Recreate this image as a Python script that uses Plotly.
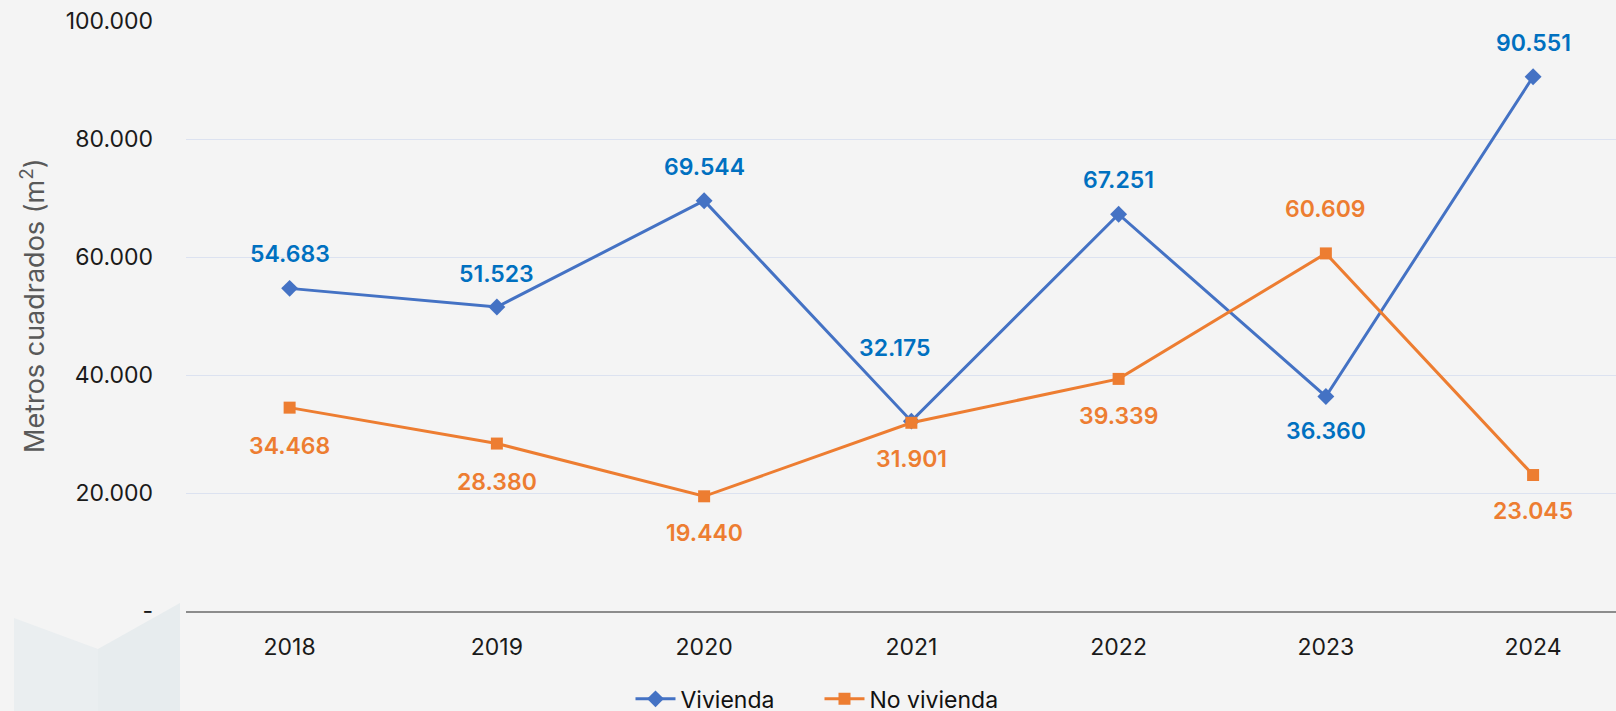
import plotly.graph_objects as go

years = ["2018", "2019", "2020", "2021", "2022", "2023", "2024"]
vivienda = [54683, 51523, 69544, 32175, 67251, 36360, 90551]
no_vivienda = [34468, 28380, 19440, 31901, 39339, 60609, 23045]
viv_labels = ["54.683", "51.523", "69.544", "32.175", "67.251", "36.360", "90.551"]
nov_labels = ["34.468", "28.380", "19.440", "31.901", "39.339", "60.609", "23.045"]
# label offsets (pixels, positive = above)
viv_shift = [34, 33, 34, 73, 34, -35, 34]
viv_xshift = [0, 0, 0, -17, 0, 0, 0]
nov_shift = [-38, -38, -37, -36, -37, 44, -36]
y_ticks = [0, 20000, 40000, 60000, 80000, 100000]
y_ticktext = ["-", "20.000", "40.000", "60.000", "80.000", "100.000"]
y_title = "Metros cuadrados (m<sup>2</sup>)"

BLUE = "#4472C4"
BLUE_TXT = "#0070C0"
ORANGE = "#ED7D31"
FONT = "Inter"

fig = go.Figure()
fig.add_trace(go.Scatter(
    x=years, y=vivienda, name="Vivienda", mode="lines+markers",
    line=dict(color=BLUE, width=3),
    marker=dict(symbol="diamond", size=13, color=BLUE),
))
fig.add_trace(go.Scatter(
    x=years, y=no_vivienda, name="No vivienda", mode="lines+markers",
    line=dict(color=ORANGE, width=3),
    marker=dict(symbol="square", size=12, color=ORANGE),
))

# plot area in pixels
L, R, T, B = 186, 1616, 21, 611
def px(xp):
    return (xp - L) / (R - L)
def py(yp):
    return (B - yp) / (B - T)

annotations = []
for i, yr in enumerate(years):
    annotations.append(dict(x=i, y=vivienda[i], xref="x", yref="y",
                            text=viv_labels[i], showarrow=False,
                            yshift=viv_shift[i], xshift=viv_xshift[i],
                            font=dict(family=FONT, size=23, color=BLUE_TXT, weight=600)))
    annotations.append(dict(x=i, y=no_vivienda[i], xref="x", yref="y",
                            text=nov_labels[i], showarrow=False,
                            yshift=nov_shift[i],
                            font=dict(family=FONT, size=23, color=ORANGE, weight=600)))
annotations.append(dict(x=px(33), y=py(306), xref="paper", yref="paper",
                        text=y_title, showarrow=False, textangle=-90,
                        xanchor="center", yanchor="middle",
                        font=dict(family=FONT, size=27, color="#595959")))

def poly(pts):
    return "M " + " L ".join(f"{px(a):.5f},{py(b):.5f}" for a, b in pts) + " Z"

shapes = [
    dict(type="path", xref="paper", yref="paper", layer="below",
         path=poly([(14, 618), (98, 649), (98, 711), (14, 711)]),
         fillcolor="#EAEEF0", line=dict(width=0)),
    dict(type="path", xref="paper", yref="paper", layer="below",
         path=poly([(98, 649), (180, 603), (180, 711), (98, 711)]),
         fillcolor="#E7ECEE", line=dict(width=0)),
]

fig.update_layout(
    width=1616, height=711,
    paper_bgcolor="#F4F4F4", plot_bgcolor="#F4F4F4",
    margin=dict(l=L, r=1616 - R, t=T, b=711 - B, autoexpand=False),
    font=dict(family=FONT, size=23, color="#1a1a1a"),
    showlegend=True,
    legend=dict(orientation="h", x=0.443, xanchor="center", y=-0.149, yanchor="middle",
                font=dict(family=FONT, size=23, color="#111111"),
                bgcolor="rgba(0,0,0,0)", itemwidth=40, tracegroupgap=0,
                entrywidth=134),
    annotations=annotations,
    shapes=shapes,
    xaxis=dict(type="category", range=[-0.5, 6.4], showgrid=False,
               showline=True, linecolor="#8C8C8C", linewidth=1.5,
               ticks="", ticklabelstandoff=15,
               tickfont=dict(family=FONT, size=23, color="#1a1a1a"), zeroline=False,
               fixedrange=True),
    yaxis=dict(range=[0, 100000], tickvals=y_ticks, ticktext=y_ticktext,
               showgrid=True, gridcolor="#DCE2F0", gridwidth=1, zeroline=False,
               showline=False, ticks="", ticklabelstandoff=32,
               tickfont=dict(family=FONT, size=23, color="#1a1a1a"),
               automargin=False),
)

fig.write_html("out.html", config={"displayModeBar": False},
               post_script="document.body.style.margin='0';document.body.style.background='#F4F4F4';")
